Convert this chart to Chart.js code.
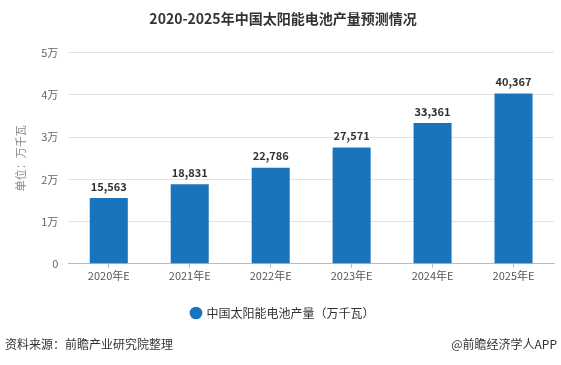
<!DOCTYPE html>
<html>
<head>
<meta charset="utf-8">
<script src="https://cdn.jsdelivr.net/npm/chart.js@4/dist/chart.umd.min.js"></script>
<style>
  body { margin: 0; background: #fff; font-family: "Noto Sans CJK SC", "Noto Sans", sans-serif; }
  #wrap { position: relative; width: 561px; height: 365px; }
  .foot { position: absolute; top: 335px; font-size: 12px; color: #333; }
</style>
</head>
<body>
<div id="wrap">
  <canvas id="c" width="561" height="365"></canvas>
  <div class="foot" style="left:5px;">资料来源：前瞻产业研究院整理</div>
  <div class="foot" style="right:4px;">@前瞻经济学人APP</div>
</div>
<script>
// 数据
var years = ['2020年E', '2021年E', '2022年E', '2023年E', '2024年E', '2025年E'];
var produccion = [15563, 18831, 22786, 27571, 33361, 40367];
var serieNombre = '中国太阳能电池产量（万千瓦）';

var fuente = '"Noto Sans CJK SC", "Noto Sans", sans-serif';

// etiquetas encima de las barras
var etiquetas = {
  id: 'etiquetas',
  afterDatasetsDraw: function(chart) {
    var ctx = chart.ctx;
    var meta = chart.getDatasetMeta(0);
    ctx.save();
    ctx.font = 'bold 11px ' + fuente;
    ctx.fillStyle = '#333';
    ctx.textAlign = 'center';
    ctx.textBaseline = 'bottom';
    meta.data.forEach(function(bar, i) {
      ctx.fillText(produccion[i].toLocaleString('en-US'), bar.x, bar.y - 6);
    });
    ctx.restore();
  }
};

var chart = new Chart(document.getElementById('c').getContext('2d'), {
  type: 'bar',
  data: {
    labels: years,
    datasets: [{
      label: serieNombre,
      data: produccion,
      backgroundColor: '#1a74bd',
      barPercentage: 0.47,
      categoryPercentage: 1
    }]
  },
  options: {
    responsive: false,
    animation: false,
    layout: { padding: { left: 12, right: 7, top: 0, bottom: 36 } },
    scales: {
      y: {
        min: 0,
        max: 50000,
        ticks: {
          stepSize: 10000,
          color: '#666',
          font: { size: 11, family: fuente },
          padding: 10,
          callback: function(v) { return v === 0 ? '0' : (v / 10000) + '万'; }
        },
        grid: { color: '#e3e3e3', drawTicks: false },
        border: { display: false },
        title: {
          display: true,
          text: '单位：万千瓦',
          color: '#888',
          font: { size: 11, family: fuente },
          padding: { top: 2, bottom: 4 }
        }
      },
      x: {
        ticks: { color: '#555', font: { size: 11, family: fuente }, padding: 1 },
        grid: { offset: false, drawOnChartArea: false, drawTicks: true, tickLength: 4, color: '#bbb' },
        border: { color: '#bbb' }
      }
    },
    plugins: {
      title: {
        display: true,
        text: '2020-2025年中国太阳能电池产量预测情况',
        color: '#333',
        font: { size: 14, weight: 'bold', family: fuente },
        padding: { top: 10, bottom: 26 }
      },
      legend: {
        position: 'bottom',
        labels: {
          usePointStyle: true,
          pointStyle: 'circle',
          boxWidth: 9,
          boxHeight: 9,
          color: '#333',
          font: { size: 12, family: fuente },
          padding: 24
        }
      },
      tooltip: { enabled: false }
    }
  },
  plugins: [etiquetas]
});
</script>
</body>
</html>
